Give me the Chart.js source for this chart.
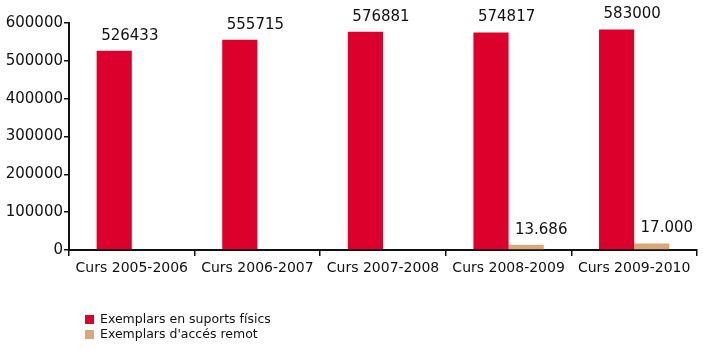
<!DOCTYPE html>
<html>
<head>
<meta charset="utf-8">
<script src="https://cdn.jsdelivr.net/npm/chart.js@4/dist/chart.umd.min.js"></script>
<style>
  html, body { margin: 0; padding: 0; background: #fff; }
  #wrap { position: relative; width: 703px; height: 351px; }
  #legend { position: absolute; left: 85px; top: 311px; font: 12.5px "DejaVu Sans", sans-serif; color: #111; line-height: 15px; }
  #legend span.box { display: inline-block; width: 9px; height: 9px; margin-right: 6px; vertical-align: -1px; }
</style>
</head>
<body>
<div id="wrap">
  <canvas id="chart1" width="703" height="351"></canvas>
  <div id="legend"></div>
</div>
<script>
const categories = ['Curs 2005-2006', 'Curs 2006-2007', 'Curs 2007-2008', 'Curs 2008-2009', 'Curs 2009-2010'];
const fisics = [526433, 555715, 576881, 574817, 583000];
const remot = [null, null, null, 13686, 17000];
const yTicks = [0, 100000, 200000, 300000, 400000, 500000, 600000];

const red = '#DC002D';
const tan = '#D9A878';

function dotted(v) {
  return String(v).replace(/\B(?=(\d{3})+(?!\d))/g, '.');
}

// value labels above the bars
const barLabels = {
  id: 'barLabels',
  afterDatasetsDraw(chart) {
    const ctx = chart.ctx;
    ctx.save();
    ctx.fillStyle = '#111';
    ctx.font = '15px "DejaVu Sans", sans-serif';
    ctx.textAlign = 'center';
    ctx.textBaseline = 'middle';
    chart.getDatasetMeta(0).data.forEach((bar, i) => {
      ctx.fillText(String(fisics[i]), bar.x + bar.width / 2 - 2, bar.y - 15);
    });
    chart.getDatasetMeta(1).data.forEach((bar, i) => {
      if (remot[i] == null) return;
      ctx.fillText(dotted(remot[i]), bar.x + 15, bar.y - 15);
    });
    ctx.restore();
  }
};

const ctx1 = document.getElementById('chart1');
new Chart(ctx1, {
  type: 'bar',
  data: {
    labels: categories,
    datasets: [{
      label: 'Exemplars en suports físics',
      data: fisics,
      backgroundColor: red,
      categoryPercentage: 0.56,
      barPercentage: 1
    }, {
      label: "Exemplars d'accés remot",
      data: remot,
      backgroundColor: tan,
      categoryPercentage: 0.56,
      barPercentage: 1
    }]
  },
  options: {
    responsive: false,
    animation: false,
    layout: { padding: { top: 23, right: 6, bottom: 71, left: 0 } },
    scales: {
      x: {
        grid: { drawOnChartArea: false, tickLength: 6, color: '#111', lineWidth: 1.5 },
        border: { color: '#111', width: 2 },
        ticks: { color: '#111', font: { family: 'DejaVu Sans', size: 14 }, padding: 4 },
        afterFit(scale) { scale.height = 30; }
      },
      y: {
        min: 0,
        max: 600000,
        afterBuildTicks(scale) { scale.ticks = yTicks.map(v => ({ value: v })); },
        grid: { drawOnChartArea: false, tickLength: 5, color: '#111', lineWidth: 1.5 },
        border: { color: '#111', width: 2 },
        ticks: {
          color: '#111',
          font: { family: 'DejaVu Sans', size: 15 },
          padding: 1,
          callback: function(value) { return String(value); }
        },
        afterFit(scale) { scale.width = 69; }
      }
    },
    plugins: {
      legend: { display: false },
      tooltip: { enabled: false }
    }
  },
  plugins: [barLabels]
});

// legend, stacked at the bottom left
const legend = document.getElementById('legend');
[[red, 'Exemplars en suports físics'], [tan, "Exemplars d'accés remot"]].forEach(([c, t]) => {
  const row = document.createElement('div');
  row.innerHTML = '<span class="box" style="background:' + c + '"></span>' + t;
  legend.appendChild(row);
});
</script>
</body>
</html>
